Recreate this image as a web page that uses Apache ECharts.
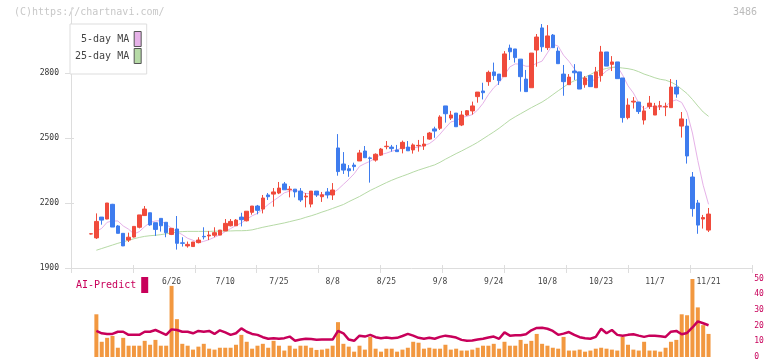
<!DOCTYPE html>
<html><head><meta charset="utf-8">
<script src="https://cdn.jsdelivr.net/npm/echarts@6/dist/echarts.min.js"></script>
<style>html,body{margin:0;padding:0;background:#fff}#c{width:772px;height:361px}</style>
</head><body><div id="c"></div>
<script>
// ---- data ----
const dates = ['6/5','6/6','6/9','6/10','6/11','6/12','6/13','6/16','6/17','6/18',
 '6/19','6/20','6/23','6/24','6/25','6/26','6/27','6/30','7/1','7/2',
 '7/3','7/4','7/7','7/8','7/9','7/10','7/11','7/14','7/15','7/16',
 '7/17','7/18','7/22','7/23','7/24','7/25','7/28','7/29','7/30','7/31',
 '8/1','8/4','8/5','8/6','8/7','8/8','8/12','8/13','8/14','8/15',
 '8/18','8/19','8/20','8/21','8/22','8/25','8/26','8/27','8/28','8/29',
 '9/1','9/2','9/3','9/4','9/5','9/8','9/9','9/10','9/11','9/12',
 '9/16','9/17','9/18','9/19','9/22','9/24','9/25','9/26','9/29','9/30',
 '10/1','10/2','10/3','10/6','10/7','10/8','10/9','10/10','10/14','10/15',
 '10/16','10/17','10/20','10/21','10/22','10/23','10/24','10/27','10/28','10/29',
 '10/30','10/31','11/4','11/5','11/6','11/7','11/10','11/11','11/12','11/13',
 '11/14','11/17','11/18','11/19','11/20','11/21'];
const tickDates = ['6/26','7/10','7/25','8/8','8/25','9/8','9/24','10/8','10/23','11/7','11/21'];
const opens = [2057,2039,2135,2126,2194,2094,2060,2029,2043,2088,
 2142,2155,2109,2129,2111,2055,2080,2016,2002,1999,
 2017,2046,2048,2051,2052,2071,2095,2095,2135,2118,
 2157,2186,2172,2237,2241,2246,2288,2261,2264,2255,
 2228,2195,2255,2229,2251,2237,2454,2380,2358,2375,
 2394,2440,2408,2398,2421,2460,2458,2445,2451,2458,
 2445,2464,2463,2495,2542,2545,2648,2592,2615,2560,
 2606,2625,2691,2717,2760,2805,2795,2783,2915,2911,
 2864,2772,2732,2906,3008,2917,2975,2901,2795,2746,
 2809,2805,2746,2788,2732,2788,2897,2840,2851,2777,
 2594,2666,2666,2583,2645,2606,2646,2643,2640,2735,
 2555,2555,2320,2200,2126,2075];
const closes = [2058,2115,2121,2200,2089,2060,2002,2042,2092,2145,
 2172,2099,2078,2095,2063,2083,2014,2014,2009,2020,
 2029,2044,2052,2063,2075,2106,2115,2121,2123,2162,
 2186,2166,2223,2229,2251,2269,2261,2264,2251,2214,
 2232,2255,2237,2238,2237,2260,2345,2352,2349,2368,
 2431,2409,2406,2425,2449,2462,2451,2437,2480,2441,
 2468,2466,2472,2523,2532,2597,2612,2606,2552,2606,
 2626,2648,2712,2709,2803,2788,2765,2888,2898,2871,
 2783,2714,2892,2966,2921,2971,2917,2843,2760,2781,
 2801,2726,2777,2737,2805,2897,2832,2851,2774,2594,
 2652,2670,2622,2625,2661,2648,2649,2646,2735,2703,
 2588,2417,2174,2098,2133,2149];
const lows = [2055,2034,2100,2125,2089,2060,2001,2020,2041,2083,
 2140,2095,2048,2068,2042,2052,1985,1999,1994,1999,
 2014,2032,2029,2042,2052,2071,2092,2095,2092,2115,
 2146,2148,2152,2214,2183,2241,2261,2226,2226,2205,
 2180,2180,2228,2205,2221,2214,2326,2334,2321,2349,
 2394,2409,2294,2391,2417,2448,2437,2437,2429,2441,
 2428,2437,2445,2492,2501,2537,2571,2583,2552,2555,
 2602,2608,2663,2678,2741,2768,2745,2783,2860,2848,
 2714,2714,2732,2829,2898,2906,2917,2843,2695,2746,
 2768,2726,2732,2737,2732,2760,2832,2809,2774,2571,
 2586,2636,2611,2562,2634,2606,2629,2601,2640,2686,
 2502,2382,2137,2058,2082,2066];
const highs = [2060,2152,2135,2200,2196,2098,2060,2063,2093,2145,
 2186,2155,2109,2129,2111,2083,2140,2042,2022,2020,
 2042,2088,2071,2088,2075,2126,2126,2126,2155,2162,
 2186,2191,2237,2246,2269,2297,2297,2278,2264,2269,
 2246,2255,2255,2251,2269,2292,2518,2435,2375,2386,
 2445,2463,2414,2429,2454,2486,2468,2468,2488,2486,
 2475,2491,2509,2528,2552,2605,2648,2625,2615,2625,
 2629,2668,2712,2755,2811,2848,2795,2901,2931,2911,
 2864,2814,2892,2980,3026,3021,2980,2918,2837,2795,
 2841,2805,2786,2791,2828,2925,2897,2878,2851,2777,
 2683,2689,2666,2648,2694,2662,2671,2663,2772,2768,
 2620,2588,2343,2214,2145,2177];
const ma5 = [null,2069,2083,2111,2117,2117,2094,2079,2057,2068,
 2091,2110,2117,2118,2101,2084,2067,2054,2037,2028,
 2017,2023,2031,2042,2053,2068,2082,2096,2108,2125,
 2141,2152,2172,2193,2211,2228,2247,2255,2259,2252,
 2244,2243,2238,2235,2240,2245,2263,2286,2309,2335,
 2369,2382,2393,2408,2424,2430,2439,2445,2456,2454,
 2455,2458,2465,2474,2492,2518,2547,2574,2580,2595,
 2600,2608,2629,2660,2700,2732,2755,2791,2828,2842,
 2841,2831,2832,2845,2855,2893,2933,2924,2882,2854,
 2820,2782,2769,2764,2769,2788,2810,2824,2832,2790,
 2741,2708,2662,2633,2646,2645,2641,2646,2668,2676,
 2664,2618,2523,2396,2282,2194];
const ma25 = [null,1982,1990,1998,2006,2014,2021,2028,2035,2041,
 2046,2049,2051,2054,2058,2062,2066,2068,2069,2069,
 2069,2069,2069,2070,2070,2071,2071,2072,2072,2073,
 2076,2082,2088,2093,2098,2103,2108,2114,2120,2126,
 2134,2141,2149,2158,2166,2175,2184,2193,2206,2218,
 2230,2244,2258,2270,2282,2294,2305,2315,2324,2333,
 2343,2352,2360,2368,2376,2388,2402,2415,2428,2440,
 2453,2466,2480,2496,2512,2528,2545,2564,2583,2598,
 2612,2626,2640,2653,2666,2682,2700,2718,2735,2752,
 2764,2773,2781,2793,2806,2815,2821,2826,2826,2823,
 2820,2815,2806,2795,2787,2778,2771,2767,2758,2745,
 2725,2705,2678,2648,2620,2600];
const volume = [null,27.2,9.7,12.2,13.4,5.9,12.2,7.2,7.2,7.2,
 10.3,7.8,10.9,7.2,7.2,45.3,24.1,8.4,7.2,4.7,
 6.6,8.4,5.3,4.7,5.9,5.9,5.9,7.8,14.1,9.7,
 5.3,7.2,8.4,5.9,10.3,7.2,4.1,7.2,5.3,7.2,
 7.2,5.9,4.5,4.7,5.3,7.2,22.2,8.4,6.6,3.4,
 7.2,4.7,12.8,5.3,3.4,5.3,5.3,3.4,4.7,5.9,
 9.7,9.1,5.3,5.9,5.3,5.3,7.8,4.7,5.3,4.1,
 4.1,4.7,5.9,7.2,7.2,8.4,5.3,9.7,7.2,7.2,
 10.9,8.4,10.3,14.7,8.4,7.2,5.9,5.3,12.8,4.1,
 4.1,4.7,3.4,4.1,5.3,5.9,5.3,4.7,4.1,12.8,
 7.8,4.7,4.1,9.7,4.1,4.1,3.4,5.9,9.7,10.9,
 27.2,26.6,49.7,31.6,20.3,14.7];
const aiPredict = [null,16.6,15.1,14.7,14.7,16.1,16.1,14.1,14.1,14.1,
 16.1,16.1,17.2,15.7,14.1,17.6,17.2,16.1,16.1,15.1,
 16.6,16.1,16.6,14.7,17.0,15.7,14.1,15.1,18.2,16.1,
 14.7,14.1,12.6,11.6,12.0,11.6,12.0,13.0,10.3,11.1,
 11.6,11.4,11.0,11.1,11.1,11.1,16.6,15.1,11.1,10.3,
 13.6,13.0,14.1,12.6,12.0,12.4,12.0,12.2,13.4,14.7,
 13.6,12.2,11.6,12.2,11.6,12.8,13.6,13.0,12.4,10.9,
 10.3,10.5,11.1,11.6,12.4,13.0,11.6,15.7,13.6,13.8,
 13.8,14.5,17.0,18.5,18.6,18.0,16.6,14.1,14.9,15.9,
 14.1,12.6,12.0,11.6,12.8,18.0,15.1,17.2,14.1,13.6,
 14.1,14.5,13.6,12.8,13.6,13.6,13.2,12.8,16.1,16.6,
 14.5,15.3,18.8,22.7,21.5,20.2];
const priceMin = 1900, priceMax = 3100, priceStep = 300;
const volMin = 0, volMax = 50, volStep = 10;

// ---- layout ----
const PAD0 = 3, PAD1 = 8;
const slot = 5.37;
const N = PAD0 + dates.length + PAD1;
const plotLeft = 91 - (PAD0 + 0.5) * slot;
const plotWidth = N * slot;
const cats = [];
for (let k = 0; k < PAD0; k++) cats.push('pre' + k);
dates.forEach(d => cats.push(d));
for (let k = 0; k < PAD1; k++) cats.push('post' + k);
const pad = arr => {
  const out = [];
  for (let k = 0; k < PAD0; k++) out.push('-');
  arr.forEach(v => out.push(v === null ? '-' : v));
  for (let k = 0; k < PAD1; k++) out.push('-');
  return out;
};
const candles = pad(opens.map((o, i) => [o, closes[i], lows[i], highs[i]]));
const tickSet = new Set(tickDates);

const RED = '#f04b3c', BLUE = '#3e7cee', ORANGE = '#f29840', CRIMSON = '#c8005a';
const PINK = '#e6b2e8', GREEN = '#b6daa6';
const MONO = 'DejaVu Sans Mono';
const AXIS = '#dddddd';

const chart = echarts.init(document.getElementById('c'), null, {renderer: 'canvas'});
chart.setOption({
  animation: false,
  backgroundColor: '#fff',
  graphic: [
    {type: 'text', left: 14, top: 7, style: {text: '(C)https://chartnavi.com/', font: '10px ' + MONO, fill: '#c8c8c8'}},
    {type: 'text', left: 733, top: 7, style: {text: '3486', font: '10px ' + MONO, fill: '#bbbbbb'}}
  ],
  legend: [
    {data: ['5-day MA', '25-day MA'], orient: 'vertical', left: 70, top: 24, align: 'right', icon: 'rect',
     itemWidth: 7, itemHeight: 15, itemGap: 1, padding: [7, 5, 10, 5], backgroundColor: '#fff',
     borderColor: AXIS, borderWidth: 1, selectedMode: false,
     itemStyle: {borderColor: '#555', borderWidth: 1},
     textStyle: {fontFamily: MONO, fontSize: 10, color: '#444'}},
    {data: ['AI-Predict'], left: 76, top: 277, align: 'right', icon: 'rect', itemWidth: 7, itemHeight: 16,
     padding: 0, selectedMode: false, itemStyle: {borderWidth: 0},
     textStyle: {fontFamily: MONO, fontSize: 10, color: CRIMSON}}
  ],
  grid: [
    {left: plotLeft, width: plotWidth, top: 8, height: 260},
    {left: 71, width: 681, top: 8, height: 260},
    {left: plotLeft, width: plotWidth, top: 278.5, height: 80}
  ],
  xAxis: [
    {type: 'category', gridIndex: 0, data: cats, boundaryGap: true,
     axisLine: {show: false}, axisTick: {show: false}, splitLine: {show: false},
     axisLabel: {interval: (idx, val) => tickSet.has(val), margin: 10, fontFamily: MONO, fontSize: 8, color: '#444'}},
    {type: 'value', gridIndex: 1, position: 'bottom', min: 0, max: 11, interval: 1,
     axisLine: {lineStyle: {color: AXIS}}, axisTick: {length: 5, lineStyle: {color: AXIS}},
     axisLabel: {show: false}, splitLine: {show: false}},
    {type: 'value', gridIndex: 1, position: 'bottom', min: 0, max: 11, interval: 1,
     axisLine: {show: false}, axisTick: {inside: true, length: 3, lineStyle: {color: AXIS}},
     axisLabel: {show: false}, splitLine: {show: false}},
    {type: 'category', gridIndex: 2, data: cats, boundaryGap: true, show: false}
  ],
  yAxis: [
    {type: 'value', gridIndex: 0, min: priceMin, max: priceMax, show: false, splitLine: {show: false}},
    {type: 'value', gridIndex: 1, position: 'left', min: priceMin, max: priceMax, interval: priceStep,
     axisLine: {show: true, lineStyle: {color: AXIS}}, axisTick: {show: true, length: 6, lineStyle: {color: AXIS}},
     axisLabel: {margin: 12, fontFamily: MONO, fontSize: 8, color: '#333', showMaxLabel: false,
                 formatter: v => String(v)},
     splitLine: {show: false}},
    {type: 'value', gridIndex: 1, position: 'left', min: priceMin, max: priceMax, interval: priceStep,
     axisLine: {show: false}, axisTick: {show: true, inside: true, length: 3, lineStyle: {color: AXIS}},
     axisLabel: {show: false}, splitLine: {show: false}},
    {type: 'value', gridIndex: 2, position: 'right', min: volMin, max: volMax, interval: volStep,
     axisLine: {show: false}, axisTick: {show: false}, splitLine: {show: false},
     axisLabel: {margin: 0, fontFamily: MONO, fontSize: 8, color: CRIMSON, align: 'left'}}
  ],
  series: [
    {name: '5-day MA', type: 'line', xAxisIndex: 0, yAxisIndex: 0, data: pad(ma5), symbol: 'none',
     lineStyle: {color: PINK, width: 1}, itemStyle: {color: PINK}, z: 2},
    {name: '25-day MA', type: 'line', xAxisIndex: 0, yAxisIndex: 0, data: pad(ma25), symbol: 'none',
     lineStyle: {color: GREEN, width: 1}, itemStyle: {color: GREEN}, z: 2},
    {name: 'price', type: 'candlestick', xAxisIndex: 0, yAxisIndex: 0, data: candles, barWidth: 4,
     itemStyle: {color: RED, color0: BLUE, borderColor: RED, borderColor0: BLUE, borderWidth: 1}, z: 3},
    {name: 'volume', type: 'bar', xAxisIndex: 3, yAxisIndex: 3, data: pad(volume), barWidth: 4,
     itemStyle: {color: ORANGE}, z: 2},
    {name: 'AI-Predict', type: 'line', xAxisIndex: 3, yAxisIndex: 3, data: pad(aiPredict), symbol: 'none',
     lineStyle: {color: CRIMSON, width: 2.5}, itemStyle: {color: CRIMSON}, z: 3}
  ]
});
</script></body></html>
